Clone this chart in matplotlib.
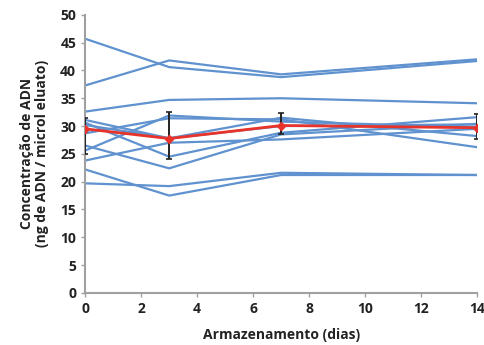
import matplotlib
matplotlib.use("Agg")
import matplotlib.pyplot as plt

plt.rcParams['font.family'] = ['Open Sans', 'DejaVu Sans']

days = [0, 3, 7, 14]

# individual samples (ng ADN / microl eluato)
samples = [
    [45.7, 40.6, 38.8, 41.7],
    [37.3, 41.8, 39.3, 42.0],
    [32.6, 34.7, 35.0, 34.1],
    [31.1, 27.8, 31.5, 28.2],
    [30.6, 24.5, 28.8, 31.6],
    [30.2, 27.8, 30.0, 30.3],
    [28.7, 31.4, 31.2, 26.2],
    [25.6, 31.9, 30.8, 29.8],
    [26.5, 22.4, 28.5, 30.4],
    [23.8, 27.0, 27.6, 29.5],
    [22.2, 17.5, 21.2, 21.2],
    [19.7, 19.2, 21.6, 21.2],
]

mean = [29.5, 27.75, 30.1, 29.7]
err_low = [4.5, 3.7, 1.6, 2.1]
err_high = [1.9, 4.8, 2.3, 2.5]

blue = "#5F92CF"
red = "#E8332A"
grey = "#A0A0A0"

fig = plt.figure(figsize=(4.84, 3.45), dpi=100)
ax = fig.add_axes([0.176, 0.151, 0.810, 0.806])

for s in samples:
    ax.plot(days, s, color=blue, lw=1.6, zorder=2)

ax.errorbar(days, mean, yerr=[err_low, err_high], fmt="none", ecolor="#222222",
            elinewidth=1.4, capsize=2.5, capthick=1.2, zorder=3)
ax.plot(days, mean, color=red, lw=2.0, marker="D", ms=4, zorder=4)

ax.set_xlim(0, 14)
ax.set_ylim(0, 50)
ax.set_xticks(range(0, 15, 2))
ax.set_yticks(range(0, 51, 5))
for sp in ("top", "right"):
    ax.spines[sp].set_visible(False)
for sp in ("left", "bottom"):
    ax.spines[sp].set_color(grey)
    ax.spines[sp].set_linewidth(1.5)
ax.tick_params(colors=grey, length=3, width=1, labelcolor="#222222")
for lab in ax.get_xticklabels() + ax.get_yticklabels():
    lab.set_fontweight("bold")
    lab.set_fontsize(10)

ax.set_xlabel("Armazenamento (dias)", fontsize=10, fontweight="bold",
              color="#222222", labelpad=9)
ax.set_ylabel("Concentração de ADN\n(ng de ADN / microl eluato)", fontsize=10,
              fontweight="bold", color="#222222", labelpad=8, linespacing=1.1)

fig.savefig("out.png", dpi=100)
